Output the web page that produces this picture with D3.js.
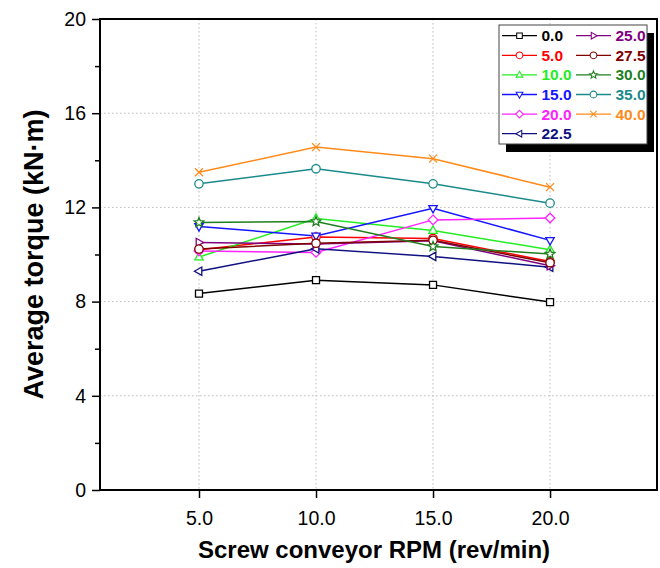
<!DOCTYPE html>
<html>
<head>
<meta charset="utf-8">
<script src="https://cdn.jsdelivr.net/npm/d3@7"></script>
<style>
  html, body { margin: 0; padding: 0; background: #fff; }
  svg { display: block; }
  text { font-family: "Liberation Sans", Arial, Helvetica, sans-serif; }
</style>
</head>
<body>
<svg id="chart" width="660" height="568"></svg>
<script>
// ---------------- data ----------------
const rpm = [5, 10, 15, 20];
const seriesNames = ["0.0", "5.0", "10.0", "15.0", "20.0", "22.5", "25.0", "27.5", "30.0", "35.0", "40.0"];
const t00  = [8.34, 8.91, 8.71, 7.98];
const t05  = [10.20, 10.74, 10.68, 9.70];
const t10  = [9.89, 11.53, 11.02, 10.20];
const t15  = [11.19, 10.79, 11.96, 10.60];
const t20  = [10.15, 10.09, 11.47, 11.55];
const t225 = [9.29, 10.24, 9.92, 9.46];
const t25  = [10.51, 10.45, 10.58, 9.52];
const t275 = [10.23, 10.48, 10.60, 9.65];
const t30  = [11.36, 11.40, 10.34, 10.02];
const t35  = [13.00, 13.64, 13.00, 12.18];
const t40  = [13.49, 14.56, 14.07, 12.86];
const yTicks = [0, 4, 8, 12, 16, 20];
const yMinorTicks = [2, 6, 10, 14, 18];
const xTicks = [5, 10, 15, 20];

const seriesValues = [t00, t05, t10, t15, t20, t225, t25, t275, t30, t35, t40];
const colors = ["#000000", "#ff0000", "#22ee22", "#1515ff", "#ff22ff", "#101080",
                "#800080", "#800000", "#1f7f1f", "#1a8a8a", "#ff8a1a"];
const markers = ["square", "circle", "up", "down", "diamond", "left",
                 "right", "circle", "star", "circle", "x"];

// ---------------- layout ----------------
const svg = d3.select("#chart");
const plotL = 100, plotR = 657, plotT = 19, plotB = 490;
const x = d3.scaleLinear().domain([0.77, 24.57]).range([plotL, plotR]);
const y = d3.scaleLinear().domain([0, 20]).range([plotB, plotT]);

function markerPath(type) {
  switch (type) {
    case "square": return "M-3.5,-3.5H3.5V3.5H-3.5Z";
    case "up": return "M0,-4.6L4.2,2.8L-4.2,2.8Z";
    case "down": return "M0,4.6L4.2,-2.8L-4.2,-2.8Z";
    case "left": return "M-4.6,0L2.8,-4.2L2.8,4.2Z";
    case "right": return "M4.6,0L-2.8,-4.2L-2.8,4.2Z";
    case "diamond": return "M0,-4.8L4.8,0L0,4.8L-4.8,0Z";
    case "x": return "M-4,-4L4,4M-4,4L4,-4";
    case "star": {
      const pts = [];
      for (let i = 0; i < 10; i++) {
        const r = i % 2 === 0 ? 5 : 2.2;
        const a = -Math.PI / 2 + i * Math.PI / 5;
        pts.push([r * Math.cos(a), r * Math.sin(a)]);
      }
      return "M" + pts.map(p => p[0].toFixed(2) + "," + p[1].toFixed(2)).join("L") + "Z";
    }
    default: return null;
  }
}
function drawMarker(g, type, color) {
  if (type === "circle") {
    g.append("circle").attr("r", 4.2).attr("fill", "#fff").attr("stroke", color).attr("stroke-width", 1.3);
  } else {
    g.append("path").attr("d", markerPath(type))
      .attr("fill", type === "x" ? "none" : "#fff")
      .attr("stroke", color).attr("stroke-width", 1.3);
  }
}

// grid
const grid = svg.append("g").attr("stroke", "#bdbdbd").attr("stroke-width", 1).attr("stroke-dasharray", "1.5,2.5");
grid.selectAll("line.v").data(xTicks).join("line").attr("class", "v")
  .attr("x1", d => x(d)).attr("x2", d => x(d)).attr("y1", plotT).attr("y2", plotB);
grid.selectAll("line.h").data(yTicks.filter(d => d > 0 && d < 20)).join("line").attr("class", "h")
  .attr("x1", plotL).attr("x2", plotR).attr("y1", d => y(d)).attr("y2", d => y(d));

// series
const line = d3.line().x((d, i) => x(rpm[i])).y(d => y(d));
seriesValues.forEach((vals, si) => {
  svg.append("path").datum(vals).attr("d", line)
    .attr("fill", "none").attr("stroke", colors[si]).attr("stroke-width", 1.5);
});
seriesValues.forEach((vals, si) => {
  vals.forEach((v, i) => {
    const g = svg.append("g").attr("transform", `translate(${x(rpm[i])},${y(v)})`);
    drawMarker(g, markers[si], colors[si]);
  });
});

// axes
const xAxis = svg.append("g").attr("transform", `translate(0,${plotB})`)
  .call(d3.axisBottom(x).tickValues(xTicks).tickFormat(d3.format(".1f")).tickSize(8).tickPadding(13));
const yAxis = svg.append("g").attr("transform", `translate(${plotL},0)`)
  .call(d3.axisLeft(y).tickValues(yTicks).tickFormat(d3.format("d")).tickSize(8).tickPadding(6));
svg.append("g").attr("transform", `translate(${plotL},0)`)
  .call(d3.axisLeft(y).tickValues(yMinorTicks).tickFormat("").tickSize(5))
  .call(g => g.select(".domain").remove())
  .selectAll("line").attr("stroke-width", 1.5);
[xAxis, yAxis].forEach(a => {
  a.select(".domain").remove();
  a.selectAll(".tick line").attr("stroke-width", 1.5);
  a.selectAll("text").attr("font-size", 19.5).attr("fill", "#000")
    .style("font-family", '"Liberation Sans", Arial, sans-serif');
});
// frame
svg.append("rect").attr("x", plotL).attr("y", plotT)
  .attr("width", plotR - plotL).attr("height", plotB - plotT)
  .attr("fill", "none").attr("stroke", "#000").attr("stroke-width", 2);

// titles
svg.append("text").attr("x", 374).attr("y", 558)
  .attr("text-anchor", "middle").attr("font-size", 24).attr("font-weight", "bold")
  .text("Screw conveyor RPM (rev/min)");
svg.append("text").attr("transform", `translate(43,${(plotT + plotB) / 2}) rotate(-90)`)
  .attr("text-anchor", "middle").attr("font-size", 27).attr("font-weight", "bold")
  .text("Average torque (kN·m)");

// legend
const lgX = 499, lgY = 25, lgW = 148, lgH = 119;
svg.append("rect").attr("x", lgX + 7).attr("y", lgY + 8).attr("width", lgW).attr("height", lgH).attr("fill", "#000");
svg.append("rect").attr("x", lgX).attr("y", lgY).attr("width", lgW).attr("height", lgH)
  .attr("fill", "#fff").attr("stroke", "#444").attr("stroke-width", 1);
seriesNames.forEach((name, si) => {
  const col = si < 6 ? 0 : 1;
  const row = si < 6 ? si : si - 6;
  const lx = col === 0 ? 502 : 576;
  const ly = 35.7 + row * 19.6;
  const g = svg.append("g");
  g.append("line").attr("x1", lx).attr("x2", lx + 35).attr("y1", ly).attr("y2", ly)
    .attr("stroke", colors[si]).attr("stroke-width", 1.3);
  const mg = g.append("g").attr("transform", `translate(${lx + 17.5},${ly}) scale(0.8)`);
  drawMarker(mg, markers[si], colors[si]);
  g.append("text").attr("x", lx + 39.5).attr("y", ly + 5.5)
    .attr("font-size", 15.5).attr("font-weight", "bold").attr("fill", colors[si])
    .text(name);
});
</script>
</body>
</html>
